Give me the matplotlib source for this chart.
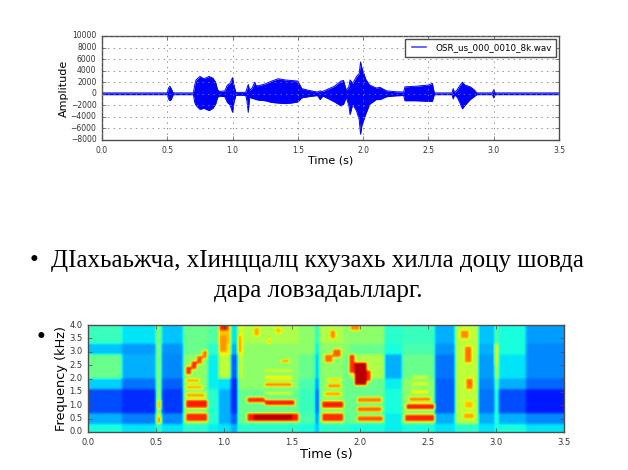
import numpy as np
import matplotlib
matplotlib.use('Agg')
import matplotlib.pyplot as plt

plt.style.use('classic')

# Waveform envelope (time in s, amplitude)
wave_t = [0.00, 0.50, 0.51, 0.52, 0.53, 0.545, 0.70, 0.71, 0.72, 0.75, 0.78, 0.82,
          0.85, 0.87, 0.885, 0.90, 0.94, 0.96, 0.98, 1.00, 1.01, 1.025, 1.10, 1.11,
          1.12, 1.13, 1.15, 1.17, 1.18, 1.20, 1.25, 1.30, 1.35, 1.40, 1.45, 1.50,
          1.53, 1.58, 1.65, 1.67, 1.69, 1.72, 1.78, 1.83, 1.85, 1.87, 1.89, 1.90,
          1.92, 1.95, 1.97, 1.98, 1.99, 2.02, 2.05, 2.10, 2.13, 2.18, 2.25, 2.31,
          2.32, 2.40, 2.50, 2.53, 2.545, 2.68, 2.69, 2.70, 2.72, 2.74, 2.76, 2.78,
          2.82, 2.85, 2.87, 2.99, 3.00, 3.01, 3.50]
wave_hi = [150, 150, 1000, 1300, 900, 150, 150, 1500, 2400, 3000, 2600, 3000,
           2700, 2000, 700, 400, 500, 1500, 1800, 2800, 1500, 250, 250, 900,
           1600, 600, 1000, 2000, 1400, 1400, 1700, 2200, 2600, 2400, 2300, 2200,
           900, 600, 300, 500, 400, 700, 1300, 2200, 2300, 600, 1200, 2400,
           1800, 3000, 3500, 5500, 4500, 2500, 1500, 1000, 1100, 500, 350, 300,
           1200, 1300, 1500, 1800, 150, 150, 900, 150, 700, 1400, 2000, 1500,
           1200, 700, 150, 150, 700, 150, 150]
wave_lo = [-150, -150, -900, -1200, -1000, -150, -150, -1500, -2000, -2700, -2500, -2900,
           -2500, -1800, -600, -400, -500, -1500, -1900, -3200, -1500, -250, -250, -1200,
           -3200, -600, -800, -900, -1000, -1100, -1200, -1500, -1600, -1700, -1600, -1400,
           -700, -500, -300, -1000, -400, -700, -1400, -2100, -1800, -600, -2000, -3600,
           -1800, -3000, -4500, -7000, -5500, -3500, -1800, -1000, -1000, -500, -350, -300,
           -1200, -1200, -1300, -1300, -150, -150, -900, -150, -600, -1500, -2600, -2000,
           -1000, -500, -150, -150, -700, -150, -150]
wav_name = 'OSR_us_000_0010_8k.wav'

# Spectrogram: background level per time segment and frequency band (0..1 on jet)
bg_band_edges = [0.0, 0.3, 0.7, 1.6, 2.0, 2.9, 3.3, 4.0]
bg_seg_edges = [0.00, 0.25, 0.50, 0.54, 0.70, 0.88, 0.96, 1.05, 1.10, 1.14, 1.55, 1.67,
                1.70, 1.88, 1.92, 2.18, 2.31, 2.55, 2.70, 2.87, 2.99, 3.02, 3.22, 3.50]
bg_levels = [
    [0.38, 0.30, 0.20, 0.33, 0.48, 0.32, 0.42],
    [0.35, 0.25, 0.17, 0.24, 0.30, 0.28, 0.35],
    [0.40, 0.62, 0.52, 0.50, 0.50, 0.50, 0.50],
    [0.35, 0.26, 0.18, 0.22, 0.26, 0.27, 0.32],
    [0.40, 0.52, 0.52, 0.52, 0.52, 0.48, 0.48],
    [0.36, 0.40, 0.40, 0.36, 0.36, 0.40, 0.45],
    [0.35, 0.30, 0.30, 0.35, 0.58, 0.66, 0.70],
    [0.30, 0.22, 0.17, 0.17, 0.22, 0.30, 0.35],
    [0.40, 0.48, 0.48, 0.52, 0.58, 0.66, 0.62],
    [0.40, 0.48, 0.48, 0.52, 0.52, 0.52, 0.56],
    [0.38, 0.44, 0.42, 0.44, 0.48, 0.52, 0.52],
    [0.32, 0.27, 0.22, 0.27, 0.32, 0.36, 0.40],
    [0.40, 0.52, 0.52, 0.52, 0.52, 0.52, 0.56],
    [0.40, 0.45, 0.48, 0.48, 0.48, 0.52, 0.52],
    [0.38, 0.48, 0.48, 0.48, 0.56, 0.48, 0.52],
    [0.36, 0.36, 0.38, 0.36, 0.30, 0.38, 0.40],
    [0.38, 0.52, 0.52, 0.52, 0.48, 0.44, 0.42],
    [0.35, 0.30, 0.22, 0.22, 0.24, 0.27, 0.30],
    [0.40, 0.56, 0.58, 0.58, 0.58, 0.58, 0.58],
    [0.35, 0.30, 0.24, 0.26, 0.28, 0.30, 0.32],
    [0.38, 0.40, 0.40, 0.45, 0.55, 0.55, 0.45],
    [0.38, 0.30, 0.20, 0.30, 0.35, 0.38, 0.38],
    [0.35, 0.26, 0.15, 0.23, 0.26, 0.26, 0.28],
]
# formant / energy patches: (t start, t end, f low kHz, f high kHz, level)
formants = [
    (0.51, 0.54, 0.35, 0.55, 0.75), (0.51, 0.54, 0.85, 1.20, 0.70),
    (0.72, 0.88, 0.38, 0.68, 0.86), (0.72, 0.88, 0.88, 1.22, 0.88),
    (0.72, 0.86, 1.28, 1.47, 0.74), (0.72, 0.84, 1.58, 1.77, 0.72),
    (0.72, 0.82, 1.83, 2.02, 0.72), (0.72, 0.76, 2.15, 2.45, 0.86),
    (0.76, 0.80, 2.35, 2.65, 0.86), (0.80, 0.84, 2.55, 2.85, 0.83),
    (0.84, 0.88, 2.75, 3.05, 0.78),
    (0.97, 1.03, 3.80, 4.00, 0.88), (0.97, 1.02, 3.00, 3.60, 0.75),
    (1.10, 1.13, 3.00, 3.60, 0.73),
    (1.17, 1.55, 0.42, 0.72, 0.88), (1.22, 1.50, 0.47, 0.67, 0.95),
    (1.17, 1.30, 1.08, 1.32, 0.86), (1.30, 1.52, 0.98, 1.22, 0.88),
    (1.30, 1.50, 1.38, 1.52, 0.62), (1.30, 1.50, 1.68, 1.84, 0.76),
    (1.30, 1.50, 1.96, 2.10, 0.65), (1.30, 1.50, 2.23, 2.37, 0.61),
    (1.42, 1.48, 2.58, 2.72, 0.77), (1.22, 1.26, 3.60, 3.90, 0.73),
    (1.38, 1.42, 3.70, 3.90, 0.71), (1.32, 1.34, 3.30, 3.50, 0.71),
    (1.72, 1.88, 0.42, 0.68, 0.86), (1.72, 1.88, 0.88, 1.17, 0.88),
    (1.74, 1.86, 1.33, 1.52, 0.74), (1.76, 1.86, 1.63, 1.80, 0.76),
    (1.76, 1.86, 1.88, 2.02, 0.72), (1.74, 1.80, 2.60, 2.90, 0.79),
    (1.80, 1.86, 2.80, 3.10, 0.81), (1.78, 1.82, 3.50, 3.80, 0.76),
    (1.92, 1.96, 2.20, 2.90, 0.86), (1.96, 2.05, 1.75, 2.60, 0.95),
    (2.05, 2.08, 1.90, 2.30, 0.86), (1.93, 2.00, 3.80, 4.00, 0.76),
    (1.98, 2.17, 0.38, 0.62, 0.82), (1.98, 2.16, 0.76, 0.94, 0.79),
    (1.98, 2.16, 1.10, 1.29, 0.77),
    (2.33, 2.55, 0.38, 0.67, 0.87), (2.34, 2.55, 0.83, 1.07, 0.88),
    (2.36, 2.52, 1.16, 1.32, 0.77), (2.38, 2.50, 1.43, 1.57, 0.69),
    (2.38, 2.50, 1.73, 1.87, 0.63), (2.38, 2.50, 1.98, 2.10, 0.61),
    (2.74, 2.80, 3.50, 3.80, 0.76), (2.77, 2.82, 2.60, 3.20, 0.79),
    (2.78, 2.83, 1.60, 2.00, 0.79), (2.76, 2.84, 0.50, 0.70, 0.73),
    (2.77, 2.83, 0.90, 1.15, 0.71),
    (2.99, 3.01, 2.50, 3.30, 0.65),
]

line1 = 'ДIахьаьжча, хIинццалц кхузахь хилла доцу шовда'
line2 = 'дара ловзадаьлларг.'

W, H = 628, 470
fig = plt.figure(figsize=(W / 100, H / 100), dpi=100, facecolor='white')

# ---- waveform
ax1 = fig.add_axes([102 / W, 1 - 140 / H, 457 / W, 104 / H])
ax1.fill_between(wave_t, wave_lo, wave_hi, color='blue', lw=0)
ax1.plot(wave_t, wave_hi, color='blue', lw=0.7, label=wav_name)
ax1.plot(wave_t, wave_lo, color='blue', lw=0.7)
ax1.set_xlim(0, 3.5)
ax1.set_ylim(-8000, 10000)
ax1.set_xticks(np.arange(0, 3.51, 0.5))
ax1.set_yticks(np.arange(-8000, 10001, 2000))
ax1.grid(True, color='0.5', linestyle=':', lw=0.6)
ax1.tick_params(labelsize=5.5, length=3, color='0.3', labelcolor='0.2')
ax1.set_xlabel('Time (s)', fontsize=8, labelpad=1)
ax1.set_ylabel('Amplitude', fontsize=8, labelpad=1)
for s in ax1.spines.values():
    s.set_color('0.3')
leg = ax1.legend(loc='upper right', fontsize=6.3, handlelength=2.2, borderpad=0.5,
                 borderaxespad=0.35, frameon=True)
leg.get_frame().set_edgecolor('0.3')
for h in leg.get_lines():
    h.set_linewidth(1.1)
    h.set_color('#3a3aff')

# ---- spectrogram
t_c = np.arange(0, 3.5, 0.01) + 0.005
f_c = np.arange(0, 4.0, 0.05) + 0.025
seg_idx = np.clip(np.searchsorted(bg_seg_edges, t_c, side='right') - 1, 0, len(bg_levels) - 1)
band_idx = np.clip(np.searchsorted(bg_band_edges, f_c, side='right') - 1, 0, len(bg_band_edges) - 2)
spec = np.array(bg_levels)[seg_idx][:, band_idx].T
for t0, t1, f0, f1, v in formants:
    rows = (f_c >= f0) & (f_c <= f1)
    cols = (t_c >= t0) & (t_c <= t1)
    spec[np.ix_(rows, cols)] = v

# soften the block edges a little, like the window smearing of a spectrogram
k = np.array([1, 2, 1], float) / 4
pad = np.pad(spec, ((1, 1), (0, 0)), mode='edge')
spec = np.array([np.convolve(pad[:, j], k, mode='valid') for j in range(spec.shape[1])]).T
pad = np.pad(spec, ((0, 0), (1, 1)), mode='edge')
spec = np.array([np.convolve(pad[i], k, mode='valid') for i in range(spec.shape[0])])

ax2 = fig.add_axes([88 / W, 1 - 432 / H, 476 / W, 107 / H])
ax2.imshow(spec, origin='lower', aspect='auto', extent=[0, 3.5, 0, 4.0],
           cmap='jet', vmin=0, vmax=1, interpolation='bilinear')
ax2.set_xlim(0, 3.5)
ax2.set_ylim(0, 4.0)
ax2.set_xticks(np.arange(0, 3.51, 0.5))
ax2.set_yticks(np.arange(0, 4.01, 0.5))
ax2.tick_params(labelsize=6, length=3, color='0.3', labelcolor='0.2')
ax2.set_xlabel('Time (s)', fontsize=9.3, labelpad=1)
ax2.set_ylabel('Frequency (kHz)', fontsize=9.3, labelpad=1)
for s in ax2.spines.values():
    s.set_color('0.3')

# ---- slide text
serif = ['Liberation Serif', 'DejaVu Serif']
fig.text(34 / W, 1 - 267 / H, '•', ha='center', va='baseline', fontsize=18, family=serif)
fig.text(317 / W, 1 - 267 / H, line1, ha='center', va='baseline', fontsize=18, family=serif)
fig.text(318 / W, 1 - 297 / H, line2, ha='center', va='baseline', fontsize=18, family=serif)
fig.text(41 / W, 1 - 344 / H, '•', ha='center', va='baseline', fontsize=18, family=serif)

fig.savefig('out.png', dpi=100, facecolor='white')
